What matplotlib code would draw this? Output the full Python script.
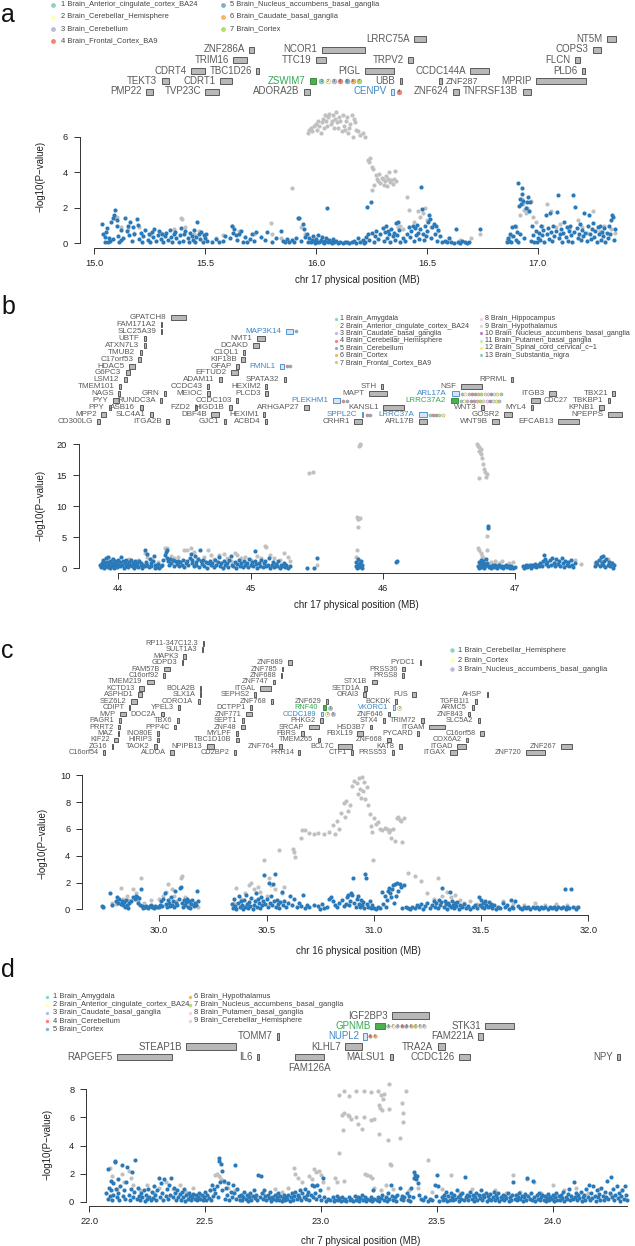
import matplotlib
matplotlib.use("Agg")
import matplotlib.pyplot as plt
import matplotlib.transforms as mtransforms
from matplotlib.patches import Rectangle
import numpy as np

plt.rcParams["font.family"] = ["Liberation Sans", "DejaVu Sans"]

W, H = 635, 1246

SET3 = ["#8dd3c7", "#ffffb3", "#bebada", "#fb8072", "#80b1d3", "#fdb462",
        "#b3de69", "#fccde5", "#d9d9d9", "#bc80bd", "#ccebc5", "#ffed6f"]
BLUE_PT = "#2a7ab9"
GRAY_PT = "#c0c0c0"
GENE_TXT = "#5a5a5a"
BOX_FILL = "#b8b8b8"
BOX_EDGE = "#454545"
GREEN_TXT = "#33a852"
GREEN_BOX = "#4caf50"
BLUE_TXT = "#3a86c8"
BLUE_BOX = "#d6e6f5"
AXIS = "#333333"

# ---------------- panel a ----------------
a_tissues = ["Brain_Anterior_cingulate_cortex_BA24", "Brain_Cerebellar_Hemisphere",
             "Brain_Cerebellum", "Brain_Frontal_Cortex_BA9",
             "Brain_Nucleus_accumbens_basal_ganglia", "Brain_Caudate_basal_ganglia",
             "Brain_Cortex"]
a_genes = [
    ("NT5M", 17.310, 17.354, 0), ("LRRC75A", 16.442, 16.497, 0),
    ("ZNF286A", 15.698, 15.720, 1), ("NCOR1", 16.027, 16.219, 1), ("COPS3", 17.250, 17.283, 1),
    ("TRIM16", 15.627, 15.687, 2), ("TTC19", 15.999, 16.043, 2), ("TRPV2", 16.416, 16.438, 2),
    ("FLCN", 17.167, 17.189, 2),
    ("CDRT4", 15.435, 15.501, 3), ("TBC1D26", 15.731, 15.742, 3), ("PIGL", 16.219, 16.350, 3),
    ("CCDC144A", 16.696, 16.778, 3), ("PLD6", 17.200, 17.211, 3),
    ("TEKT3", 15.303, 15.336, 4), ("CDRT1", 15.566, 15.620, 4), ("ZSWIM7", 15.972, 15.999, 4),
    ("UBB", 16.378, 16.389, 4), ("ZNF287", 16.553, 16.570, 4), ("MPRIP", 16.992, 17.217, 4),
    ("PMP22", 15.232, 15.265, 5), ("TVP23C", 15.501, 15.561, 5), ("ADORA2B", 15.945, 15.972, 5),
    ("CENPV", 16.339, 16.350, 5), ("ZNF624", 16.619, 16.645, 5), ("TNFRSF13B", 16.931, 16.969, 5),
]
a_hi = {"ZSWIM7": ("green", [1, 2, 3, 4, 5, 6, 7]), "CENPV": ("blue", [4])}
a_blue = [
    (15.035, 1.10), (15.04, 0.55), (15.046, 0.37), (15.05, 0.10), (15.053, 0.65), (15.058, 0.85),
    (15.068, 0.30), (15.077, 1.20), (15.082, 1.40), (15.09, 1.60), (15.095, 1.85), (15.10, 1.30),
    (15.104, 0.95), (15.108, 0.40), (15.113, 0.10), (15.119, 0.75), (15.122, 0.20), (15.06, 0.05),
    (15.072, 0.12), (15.085, 0.25),
    (15.13, 0.30), (15.14, 1.40), (15.145, 0.70), (15.15, 1.00), (15.155, 0.45), (15.16, 1.20),
    (15.17, 0.15), (15.175, 0.90), (15.18, 0.55), (15.19, 1.35), (15.195, 1.05), (15.20, 0.25),
    (15.21, 0.60), (15.215, 0.05), (15.22, 0.40), (15.23, 0.75), (15.24, 0.20), (15.245, 0.50),
    (15.25, 0.10), (15.26, 0.65), (15.265, 0.35), (15.27, 0.80), (15.28, 0.15), (15.285, 0.45),
    (15.29, 0.70), (15.30, 0.25), (15.305, 0.55), (15.31, 0.05), (15.32, 0.40), (15.325, 0.60),
    (15.33, 0.20), (15.34, 0.75), (15.345, 0.35), (15.35, 0.10), (15.36, 0.50), (15.365, 0.65),
    (15.37, 0.30), (15.38, 0.05), (15.385, 0.45), (15.39, 0.85), (15.40, 0.15), (15.405, 0.55),
    (15.41, 0.70), (15.42, 0.30), (15.425, 0.10), (15.43, 0.60), (15.44, 0.40), (15.445, 0.20),
    (15.45, 0.75), (15.455, 0.05), (15.46, 0.35), (15.465, 1.20), (15.47, 0.50), (15.475, 0.25),
    (15.48, 0.65), (15.49, 0.10), (15.495, 0.45), (15.50, 0.30), (15.505, 0.55), (15.51, 0.15),
    (15.53, 0.10), (15.55, 0.25), (15.56, 0.05), (15.58, 0.15), (15.59, 0.40), (15.61, 0.30),
    (15.62, 0.95), (15.625, 0.60), (15.63, 0.80), (15.64, 0.45), (15.645, 0.20), (15.65, 0.55),
    (15.66, 0.70), (15.67, 0.10), (15.68, 0.35), (15.69, 0.05), (15.70, 0.25), (15.71, 0.50),
    (15.72, 0.15), (15.73, 0.65),
    (15.75, 0.35), (15.77, 0.20), (15.78, 0.65), (15.80, 0.10), (15.82, 0.30), (15.84, 0.70),
    (15.85, 0.15), (15.86, 0.05), (15.87, 0.25), (15.88, 0.10), (15.89, 0.20), (15.90, 0.05),
    (15.91, 0.30), (15.92, 1.45), (15.925, 1.40), (15.93, 0.15), (15.94, 1.10), (15.945, 0.80),
    (15.95, 0.35), (15.96, 0.55),
    (15.965, 0.10), (15.97, 0.30), (15.975, 0.05), (15.98, 0.20), (15.985, 0.40), (15.99, 0.15),
    (15.995, 0.02), (16.00, 0.25), (16.005, 0.10), (16.01, 0.45), (16.015, 0.05), (16.02, 0.20),
    (16.025, 0.35), (16.03, 0.10), (16.035, 0.02), (16.04, 0.15), (16.045, 0.30), (16.05, 2.00),
    (16.055, 0.05), (16.06, 0.20), (16.065, 0.10), (16.07, 0.02), (16.075, 0.25), (16.08, 0.05),
    (16.09, 0.15), (16.10, 0.02), (16.11, 0.08), (16.12, 0.02), (16.13, 0.10), (16.14, 0.05),
    (16.15, 0.02), (16.16, 0.08), (16.17, 0.15), (16.18, 0.02), (16.19, 0.30), (16.20, 0.05),
    (16.21, 0.20), (16.215, 0.02), (16.22, 0.10), (16.225, 0.35),
    (16.228, 2.05), (16.235, 0.50), (16.24, 0.20), (16.246, 2.30), (16.25, 0.60), (16.26, 0.05),
    (16.265, 0.40), (16.27, 0.70), (16.28, 0.25), (16.29, 0.55),
    (16.30, 0.85), (16.305, 0.15), (16.31, 0.65), (16.315, 0.95), (16.32, 0.30), (16.325, 0.70),
    (16.33, 0.50), (16.335, 0.10), (16.34, 0.80), (16.345, 0.40), (16.35, 0.60), (16.355, 0.20),
    (16.36, 1.15), (16.365, 0.45), (16.37, 1.20), (16.375, 0.75), (16.38, 0.05), (16.39, 0.30),
    (16.40, 0.15), (16.41, 0.55),
    (16.42, 0.90), (16.425, 0.35), (16.43, 0.70), (16.435, 1.00), (16.44, 0.15), (16.445, 0.85),
    (16.45, 0.45), (16.455, 1.05), (16.46, 0.60), (16.465, 0.25), (16.47, 0.80), (16.475, 3.15),
    (16.478, 1.95), (16.48, 0.55), (16.485, 0.20), (16.49, 0.95), (16.495, 0.40), (16.50, 0.70),
    (16.505, 1.20), (16.51, 1.60), (16.515, 1.35), (16.52, 0.30), (16.525, 0.90), (16.53, 1.10),
    (16.535, 0.50), (16.54, 1.00), (16.545, 0.15), (16.55, 0.75), (16.56, 0.40), (16.57, 0.10),
    (16.58, 0.15), (16.59, 0.05), (16.60, 0.30), (16.61, 0.10), (16.62, 0.02), (16.63, 0.80),
    (16.64, 0.08), (16.65, 0.02), (16.66, 0.12), (16.67, 0.05), (16.68, 0.02), (16.69, 0.08),
    (16.74, 0.80),
    (16.86, 0.10), (16.865, 0.30), (16.87, 0.15), (16.875, 0.55), (16.88, 0.05), (16.885, 0.90),
    (16.89, 0.40), (16.895, 1.00), (16.90, 0.20), (16.905, 0.65), (16.91, 0.10), (16.912, 3.40),
    (16.915, 2.10), (16.918, 0.50), (16.92, 2.50), (16.925, 2.20), (16.928, 2.80), (16.93, 3.10),
    (16.935, 2.40), (16.94, 0.30), (16.945, 2.00), (16.95, 2.35), (16.955, 2.60), (16.96, 1.80),
    (16.965, 2.30), (16.97, 0.15), (16.975, 1.00), (16.98, 0.45), (16.985, 0.10), (16.99, 0.70),
    (16.995, 0.05), (17.00, 0.30),
    (17.005, 0.60), (17.01, 0.20), (17.015, 1.00), (17.02, 0.45), (17.025, 0.75), (17.03, 0.10),
    (17.035, 1.60), (17.04, 0.50), (17.045, 0.85), (17.05, 0.25), (17.055, 1.70), (17.06, 0.65),
    (17.065, 0.15), (17.07, 0.95), (17.075, 0.40), (17.08, 0.70), (17.085, 1.75), (17.09, 2.70),
    (17.095, 0.30), (17.10, 0.55), (17.105, 0.80), (17.11, 0.05), (17.115, 0.60), (17.12, 1.20),
    (17.125, 0.35), (17.13, 0.90), (17.135, 0.15), (17.14, 0.70), (17.145, 1.00), (17.15, 0.45),
    (17.155, 0.10), (17.16, 2.70), (17.165, 0.65), (17.17, 2.05), (17.175, 0.85), (17.18, 0.30),
    (17.185, 0.55), (17.19, 1.10), (17.195, 0.20), (17.20, 0.75), (17.205, 0.40), (17.21, 1.70),
    (17.215, 0.60), (17.22, 0.15), (17.225, 0.95), (17.23, 1.60), (17.235, 0.50), (17.24, 0.25),
    (17.245, 0.80), (17.25, 1.15), (17.255, 0.35), (17.26, 0.70), (17.265, 0.05), (17.27, 0.90),
    (17.275, 0.55), (17.28, 1.00), (17.285, 0.20), (17.29, 0.65), (17.295, 0.40), (17.30, 0.85),
    (17.305, 0.10), (17.31, 0.60), (17.315, 0.30), (17.32, 0.95), (17.325, 0.50), (17.33, 1.30),
    (17.335, 1.60), (17.34, 1.50), (17.345, 0.20), (17.35, 0.80),
]
a_gray = [
    (15.09, 1.45), (15.10, 1.50), (15.12, 0.90), (15.15, 0.80), (15.18, 0.60), (15.20, 0.90),
    (15.25, 0.45), (15.30, 0.60), (15.36, 0.80), (15.39, 1.45), (15.395, 1.38), (15.41, 0.90),
    (15.45, 0.50), (15.47, 0.70), (15.55, 0.30), (15.58, 0.45), (15.62, 1.00), (15.65, 0.70),
    (15.72, 0.55), (15.795, 1.15), (15.80, 0.50), (15.84, 0.30), (15.89, 3.10), (15.93, 0.90),
    (15.95, 0.50),
    (15.965, 6.2), (15.97, 6.4), (15.975, 6.5), (15.98, 6.3), (15.99, 6.6), (16.00, 6.7),
    (16.005, 6.4), (16.01, 6.9), (16.015, 6.6), (16.02, 6.2), (16.025, 6.8), (16.03, 7.0),
    (16.035, 6.5), (16.04, 7.2), (16.045, 6.9), (16.05, 6.6), (16.055, 7.1), (16.06, 7.3),
    (16.065, 6.7), (16.07, 6.9), (16.075, 7.2), (16.08, 6.5), (16.085, 7.0), (16.09, 7.4),
    (16.095, 6.8), (16.10, 6.5), (16.105, 7.1), (16.11, 6.9), (16.115, 6.3), (16.12, 7.2),
    (16.125, 6.6), (16.13, 6.4), (16.135, 6.9), (16.14, 7.1), (16.145, 6.2), (16.15, 6.5),
    (16.155, 6.7), (16.16, 7.2), (16.165, 6.0), (16.17, 7.0), (16.175, 6.8), (16.18, 6.4),
    (16.19, 6.3), (16.20, 6.1), (16.21, 6.2), (16.22, 6.0),
    (16.235, 4.7), (16.24, 4.55), (16.245, 4.8), (16.25, 4.3), (16.255, 4.2), (16.252, 3.0),
    (16.26, 3.3), (16.27, 3.85), (16.275, 3.6), (16.28, 3.5), (16.285, 3.9), (16.29, 3.4),
    (16.295, 3.7), (16.30, 3.6), (16.305, 3.3), (16.31, 3.5), (16.315, 3.8), (16.32, 3.2),
    (16.325, 3.6), (16.33, 4.0), (16.335, 3.45), (16.34, 3.55), (16.345, 3.35), (16.35, 3.6),
    (16.355, 4.05), (16.36, 3.5),
    (16.37, 0.9), (16.38, 1.0), (16.39, 0.8), (16.41, 2.6), (16.42, 1.9), (16.44, 1.2),
    (16.46, 1.8), (16.47, 1.5), (16.48, 1.7), (16.49, 2.0), (16.50, 1.3), (16.52, 0.9),
    (16.55, 0.7), (16.60, 0.3), (16.65, 0.2), (16.70, 0.3), (16.74, 0.5), (16.86, 0.2),
    (16.88, 0.4), (16.90, 0.9), (16.92, 1.6), (16.93, 2.5), (16.935, 2.2), (16.94, 1.9),
    (16.945, 1.7), (16.95, 2.0), (16.96, 1.8), (16.97, 2.4), (16.98, 1.5), (16.99, 1.2),
    (17.02, 1.0), (17.04, 2.2), (17.06, 1.8), (17.08, 0.9), (17.10, 1.1), (17.14, 0.8),
    (17.18, 1.3), (17.20, 0.9), (17.22, 0.6), (17.25, 1.8), (17.28, 0.7), (17.30, 1.0),
    (17.33, 0.8), (17.35, 0.6),
]

# ---------------- panel b ----------------
b_tissues = ["Brain_Amygdala", "Brain_Anterior_cingulate_cortex_BA24",
             "Brain_Caudate_basal_ganglia", "Brain_Cerebellar_Hemisphere",
             "Brain_Cerebellum", "Brain_Cortex", "Brain_Frontal_Cortex_BA9",
             "Brain_Hippocampus", "Brain_Hypothalamus",
             "Brain_Nucleus_accumbens_basal_ganglia", "Brain_Putamen_basal_ganglia",
             "Brain_Spinal_cord_cervical_c\u22121", "Brain_Substantia_nigra"]
b_genes = [
    ("GPATCH8", 44.398, 44.509, 0),
    ("FAM171A2", 44.321, 44.331, 1),
    ("SLC25A39", 44.321, 44.331, 2), ("MAP3K14", 45.265, 45.317, 2),
    ("UBTF", 44.193, 44.209, 3), ("NMT1", 45.050, 45.111, 3),
    ("ATXN7L3", 44.193, 44.209, 4), ("DCAKD", 45.020, 45.065, 4),
    ("TMUB2", 44.163, 44.178, 5), ("C1QL1", 44.943, 44.959, 5),
    ("C17orf53", 44.147, 44.169, 6), ("KIF18B", 44.928, 44.959, 6),
    ("HDAC5", 44.080, 44.123, 7), ("GFAP", 44.891, 44.913, 7), ("FMNL1", 45.225, 45.249, 7),
    ("G6PC3", 44.055, 44.092, 8), ("EFTUD2", 44.851, 44.904, 8),
    ("LSM12", 44.040, 44.064, 9), ("ADAM11", 44.759, 44.781, 9), ("SPATA32", 45.249, 45.264, 9),
    ("RPRML", 46.972, 46.984, 9),
    ("TMEM101", 44.003, 44.018, 10), ("CCDC43", 44.674, 44.689, 10), ("HEXIM2", 45.111, 45.127, 10),
    ("STH", 45.984, 45.999, 10), ("NSF", 46.590, 46.749, 10),
    ("NAGS", 44.000, 44.016, 11), ("GRN", 44.346, 44.362, 11), ("MEIOC", 44.668, 44.692, 11),
    ("PLCD3", 45.111, 45.133, 11), ("MAPT", 45.898, 46.029, 11), ("ARL17A", 46.520, 46.575, 11),
    ("ITGB3", 47.254, 47.306, 11), ("TBX21", 47.735, 47.753, 11),
    ("PYY", 43.958, 44.009, 12), ("RUNDC3A", 44.316, 44.331, 12), ("CCDC103", 44.891, 44.906, 12),
    ("PLEKHM1", 45.623, 45.678, 12), ("LRRC37A2", 46.511, 46.566, 12), ("CDC27", 47.122, 47.186, 12),
    ("TBKBP1", 47.698, 47.719, 12),
    ("PPY", 43.927, 43.948, 13), ("ASB16", 44.163, 44.184, 13), ("FZD2", 44.576, 44.597, 13),
    ("HIGD1B", 44.836, 44.858, 13), ("ARHGAP27", 45.402, 45.439, 13), ("KANSL1", 46.003, 46.160, 13),
    ("WNT3", 46.743, 46.761, 13), ("MYL4", 47.117, 47.138, 13), ("KPNB1", 47.636, 47.672, 13),
    ("MPP2", 43.871, 43.908, 14), ("SLC4A1", 44.239, 44.261, 14), ("DBF4B", 44.704, 44.759, 14),
    ("HEXIM1", 45.096, 45.111, 14), ("SPPL2C", 45.840, 45.852, 14), ("LRRC37A", 46.270, 46.330, 14),
    ("GOSR2", 46.917, 46.979, 14), ("NPEPPS", 47.698, 47.807, 14),
    ("CD300LG", 43.841, 43.862, 15), ("ITGA2B", 44.362, 44.383, 15), ("GJC1", 44.799, 44.815, 15),
    ("ACBD4", 45.111, 45.127, 15), ("CRHR1", 45.785, 45.840, 15), ("ARL17B", 46.275, 46.336, 15),
    ("WNT9B", 46.826, 46.878, 15), ("EFCAB13", 47.324, 47.484, 15),
]
b_hi = {"MAP3K14": ("blue", [5]), "FMNL1": ("blue", [4, 5]), "PLEKHM1": ("blue", [4, 5]),
        "SPPL2C": ("blue", [4, 5]), "ARL17A": ("blue", list(range(1, 14))),
        "LRRC37A2": ("green", list(range(1, 14))), "LRRC37A": ("blue", [1, 4, 5, 7, 12])}
b_blue = [
    (43.86, 0.5), (43.87, 0.2), (43.875, 0.9), (43.88, 0.3), (43.885, 1.3), (43.89, 0.6),
    (43.895, 0.1), (43.90, 0.8), (43.905, 1.6), (43.91, 0.4), (43.915, 1.0), (43.92, 0.2),
    (43.925, 1.8), (43.93, 0.7), (43.935, 0.05), (43.94, 1.2), (43.945, 0.5), (43.95, 0.9),
    (43.955, 0.3), (43.96, 1.5), (43.965, 0.6), (43.97, 0.1), (43.975, 1.1), (43.98, 0.4),
    (43.985, 0.8), (43.99, 0.2), (43.995, 1.4),
    (44.00, 0.6), (44.01, 1.0), (44.015, 0.3), (44.02, 1.8), (44.03, 0.5), (44.035, 1.2),
    (44.04, 0.1), (44.05, 0.8), (44.055, 0.4), (44.06, 1.4), (44.07, 0.7), (44.075, 0.2),
    (44.08, 1.0), (44.09, 0.5), (44.095, 1.3), (44.10, 0.3), (44.11, 0.9), (44.115, 0.05),
    (44.12, 0.6), (44.13, 1.1), (44.14, 0.4), (44.145, 0.8), (44.15, 0.2), (44.16, 1.2),
    (44.17, 0.5), (44.175, 0.9), (44.18, 0.1), (44.19, 0.6),
    (44.20, 2.9), (44.205, 0.3), (44.21, 1.0), (44.215, 0.6), (44.22, 2.3), (44.23, 0.2),
    (44.24, 1.5), (44.245, 0.8), (44.25, 0.4), (44.26, 1.2), (44.27, 2.0), (44.275, 0.1),
    (44.28, 0.5), (44.29, 0.2), (44.30, 0.7), (44.31, 0.05), (44.32, 0.3), (44.33, 0.6),
    (44.34, 1.4), (44.35, 2.2), (44.36, 2.6), (44.365, 1.7), (44.37, 3.0), (44.375, 1.2),
    (44.38, 0.5), (44.39, 1.5), (44.40, 0.9), (44.41, 1.3), (44.42, 0.4), (44.43, 1.1),
    (44.44, 0.7), (44.45, 1.2),
    (44.46, 0.3), (44.47, 1.0), (44.48, 0.6), (44.49, 1.4), (44.50, 0.2), (44.51, 0.9),
    (44.52, 1.2), (44.53, 0.5), (44.54, 1.6), (44.55, 2.3), (44.555, 0.8), (44.56, 1.3),
    (44.57, 0.3), (44.58, 2.0), (44.585, 1.0), (44.59, 0.6), (44.60, 1.5), (44.61, 0.2),
    (44.62, 2.9), (44.625, 1.1), (44.63, 0.7), (44.64, 1.4), (44.65, 0.4), (44.66, 1.0),
    (44.67, 0.1), (44.68, 0.8), (44.69, 1.2), (44.70, 0.5), (44.71, 0.9), (44.72, 0.2),
    (44.73, 1.3), (44.74, 0.6), (44.75, 1.0),
    (44.76, 1.9), (44.77, 0.3), (44.78, 0.8), (44.79, 0.1), (44.80, 1.1), (44.81, 0.5),
    (44.82, 0.9), (44.83, 0.2), (44.84, 1.4), (44.85, 2.0), (44.86, 0.6), (44.87, 0.3),
    (44.88, 1.0), (44.89, 0.05), (44.90, 0.7), (44.91, 1.3), (44.92, 0.4), (44.93, 0.8),
    (44.94, 0.15), (44.95, 1.1), (44.96, 0.5), (44.97, 0.9), (44.98, 0.2), (44.99, 1.5),
    (45.00, 0.6), (45.01, 1.0), (45.02, 0.3), (45.03, 2.8), (45.035, 1.2), (45.04, 0.7),
    (45.05, 0.1), (45.06, 0.9), (45.07, 0.4), (45.08, 1.4), (45.09, 0.2), (45.10, 0.8),
    (45.11, 1.1), (45.12, 0.3), (45.13, 0.6), (45.14, 1.6), (45.15, 0.05), (45.16, 0.5),
    (45.17, 1.0), (45.18, 0.2), (45.19, 0.7), (45.20, 0.4), (45.21, 1.2), (45.22, 0.1),
    (45.23, 0.6), (45.24, 0.3), (45.25, 0.9), (45.26, 0.15), (45.27, 0.5), (45.28, 0.05),
    (45.30, 0.3),
    (45.43, 0.05), (45.48, 0.05), (45.50, 1.7),
    (45.795, 0.3), (45.80, 1.0), (45.805, 0.1), (45.81, 0.6), (45.815, 1.5), (45.82, 0.2),
    (45.825, 0.8), (45.83, 0.4), (45.835, 1.2), (45.84, 0.05), (45.845, 0.5),
    (46.10, 1.0), (46.105, 1.2),
    (46.72, 0.3), (46.725, 1.0), (46.73, 0.1), (46.735, 0.6), (46.74, 1.3), (46.745, 0.2),
    (46.75, 0.8), (46.755, 0.4), (46.76, 1.1), (46.765, 0.05), (46.77, 0.7), (46.775, 0.3),
    (46.78, 1.5), (46.785, 0.5), (46.79, 0.9), (46.795, 6.8), (46.797, 6.5), (46.80, 0.2),
    (46.81, 0.4), (46.82, 0.1), (46.83, 0.5), (46.84, 0.2), (46.85, 0.6), (46.86, 0.05),
    (46.87, 0.3), (46.88, 0.5), (46.89, 0.15), (46.90, 0.4), (46.91, 0.05), (46.92, 0.3),
    (46.93, 0.6), (46.94, 0.2), (46.95, 0.4), (46.96, 0.1), (46.97, 0.3), (46.98, 0.05),
    (47.00, 0.2),
    (47.06, 0.3), (47.07, 0.1), (47.08, 0.5), (47.09, 0.2), (47.10, 0.4), (47.11, 0.6),
    (47.12, 0.1), (47.13, 0.5), (47.14, 0.3), (47.15, 0.7), (47.16, 0.2), (47.17, 0.6),
    (47.18, 0.4), (47.19, 0.9), (47.20, 0.3), (47.21, 1.2), (47.22, 2.2), (47.225, 1.5),
    (47.23, 0.7), (47.24, 1.0), (47.25, 0.4), (47.26, 1.3), (47.27, 0.6), (47.28, 1.7),
    (47.29, 0.9), (47.30, 0.3), (47.31, 1.5), (47.32, 0.7), (47.33, 1.1), (47.34, 0.4),
    (47.35, 1.6), (47.36, 0.8), (47.37, 0.2), (47.38, 1.2), (47.39, 0.5), (47.40, 1.0),
    (47.41, 0.3), (47.42, 1.4), (47.43, 0.6), (47.44, 0.2), (47.45, 0.8),
    (47.60, 0.4), (47.61, 1.0), (47.62, 0.7), (47.63, 1.4), (47.64, 0.3), (47.65, 1.8),
    (47.655, 0.9), (47.66, 2.0), (47.665, 0.5), (47.67, 1.2), (47.68, 0.2), (47.69, 1.5),
    (47.70, 0.6), (47.71, 1.0), (47.72, 0.3), (47.73, 0.8), (47.74, 0.1), (47.75, 0.5),
]
b_gray = [
    (43.90, 1.0), (43.95, 1.5), (44.00, 0.8), (44.05, 1.2), (44.08, 1.5), (44.12, 0.9),
    (44.15, 1.3), (44.20, 2.5), (44.22, 1.8), (44.25, 1.5), (44.30, 1.0), (44.35, 3.2),
    (44.37, 3.3), (44.40, 2.0), (44.42, 1.6), (44.45, 1.8), (44.50, 3.0), (44.52, 2.9),
    (44.55, 3.2), (44.57, 2.6), (44.60, 1.5), (44.65, 1.8), (44.68, 3.0), (44.70, 2.2),
    (44.72, 1.5), (44.76, 2.1), (44.80, 2.3), (44.82, 1.7), (44.85, 1.2), (44.88, 2.5),
    (44.90, 2.2), (44.93, 1.6), (44.96, 1.9), (45.00, 1.4), (45.05, 2.0), (45.08, 1.7),
    (45.11, 3.6), (45.12, 3.4), (45.15, 2.1), (45.18, 1.6), (45.22, 1.3), (45.25, 2.4),
    (45.28, 1.8), (45.30, 1.2),
    (45.44, 15.3), (45.47, 15.5), (45.50, 0.6),
    (45.805, 8.2), (45.81, 8.0), (45.815, 7.9), (45.82, 19.8), (45.825, 20.0), (45.83, 19.9),
    (45.812, 6.6), (45.808, 3.0), (45.80, 1.8), (45.818, 1.2), (45.828, 8.1),
    (46.715, 20.1), (46.72, 19.8), (46.725, 19.5), (46.73, 19.0), (46.735, 18.8), (46.74, 19.3),
    (46.745, 18.4), (46.75, 17.8), (46.76, 16.8), (46.765, 16.0), (46.775, 15.5), (46.725, 14.6),
    (46.78, 14.8), (46.785, 15.2), (46.79, 5.2), (46.72, 3.3), (46.73, 3.0), (46.74, 2.5),
    (46.75, 2.0), (46.76, 1.6), (46.79, 3.0),
    (46.82, 1.0), (46.85, 1.2), (46.88, 0.9), (46.90, 1.1), (46.95, 0.8), (46.98, 1.0),
    (47.10, 0.6), (47.20, 0.8), (47.30, 1.0), (47.40, 0.9), (47.45, 1.3), (47.50, 0.7),
    (47.60, 0.9), (47.65, 1.2), (47.70, 1.5), (47.72, 1.0),
]

# ---------------- panel c ----------------
c_tissues = ["Brain_Cerebellar_Hemisphere", "Brain_Cortex",
             "Brain_Nucleus_accumbens_basal_ganglia"]
c_genes = [
    ("RP11-347C12.3", 30.202, 30.208, 0),
    ("SULT1A3", 30.198, 30.206, 1),
    ("MAPK3", 30.113, 30.123, 2),
    ("GDPD3", 30.104, 30.111, 3), ("ZNF689", 30.602, 30.621, 3), ("PYDC1", 31.215, 31.221, 3),
    ("FAM57B", 30.023, 30.051, 4), ("ZNF785", 30.570, 30.579, 4), ("PRSS36", 31.132, 31.145, 4),
    ("C16orf92", 30.019, 30.027, 5), ("ZNF688", 30.566, 30.573, 5), ("PRSS8", 31.130, 31.139, 5),
    ("TMEM219", 29.942, 29.976, 6), ("ZNF747", 30.528, 30.538, 6), ("STX1B", 30.990, 31.013, 6),
    ("KCTD13", 29.906, 29.928, 7), ("BOLA2B", 30.189, 30.196, 7), ("ITGAL", 30.470, 30.522, 7),
    ("SETD1A", 30.956, 30.966, 7),
    ("ASPHD1", 29.900, 29.922, 8), ("SLX1A", 30.189, 30.196, 8), ("SEPHS2", 30.441, 30.451, 8),
    ("ORAI3", 30.952, 30.962, 8), ("FUS", 31.179, 31.198, 8), ("AHSP", 31.526, 31.532, 8),
    ("SEZ6L2", 29.868, 29.896, 9), ("CORO1A", 30.179, 30.188, 9), ("ZNF768", 30.519, 30.528, 9),
    ("ZNF629", 30.777, 30.787, 9), ("BCKDK", 31.098, 31.108, 9), ("TGFB1I1", 31.470, 31.479, 9),
    ("CDIPT", 29.859, 29.866, 10), ("YPEL3", 30.089, 30.098, 10), ("DCTPP1", 30.423, 30.432, 10),
    ("RNF40", 30.762, 30.777, 10), ("VKORC1", 31.088, 31.098, 10), ("ARMC5", 31.456, 31.466, 10),
    ("MVP", 29.819, 29.847, 11), ("DOC2A", 30.007, 30.023, 11), ("ZNF771", 30.406, 30.432, 11),
    ("CCDC189", 30.754, 30.762, 11), ("ZNF646", 31.066, 31.074, 11), ("ZNF843", 31.437, 31.447, 11),
    ("PAGR1", 29.812, 29.821, 12), ("TBX6", 30.083, 30.092, 12), ("SEPT1", 30.385, 30.396, 12),
    ("PHKG2", 30.749, 30.762, 12), ("STX4", 31.041, 31.051, 12), ("TRIM72", 31.221, 31.234, 12),
    ("SLC5A2", 31.484, 31.494, 12),
    ("PRRT2", 29.809, 29.819, 13), ("PPP4C", 30.070, 30.079, 13), ("ZNF48", 30.381, 30.400, 13),
    ("SRCAP", 30.698, 30.743, 13), ("HSD3B7", 30.981, 30.990, 13), ("ITGAM", 31.258, 31.334, 13),
    ("MAZ", 29.806, 29.815, 14), ("INO80E", 29.991, 30.000, 14), ("MYLPF", 30.357, 30.366, 14),
    ("FBRS", 30.660, 30.673, 14), ("FBXL19", 30.924, 30.951, 14), ("PYCARD", 31.202, 31.211, 14),
    ("C16orf58", 31.494, 31.513, 14),
    ("KIF22", 29.791, 29.806, 15), ("HIRIP3", 29.989, 30.000, 15), ("TBC1D10B", 30.357, 30.372, 15),
    ("TMEM265", 30.739, 30.749, 15), ("ZNF668", 31.060, 31.079, 15), ("COX6A2", 31.428, 31.437, 15),
    ("ZG16", 29.778, 29.787, 16), ("TAOK2", 29.976, 29.991, 16), ("NPIPB13", 30.221, 30.255, 16),
    ("ZNF764", 30.560, 30.570, 16), ("BCL7C", 30.834, 30.900, 16), ("KAT8", 31.117, 31.130, 16),
    ("ITGAD", 31.390, 31.428, 16), ("ZNF267", 31.871, 31.922, 16),
    ("C16orf54", 29.740, 29.749, 17), ("ALDOA", 30.051, 30.070, 17), ("CD2BP2", 30.349, 30.358, 17),
    ("PRR14", 30.649, 30.658, 17), ("CTF1", 30.896, 30.904, 17), ("PRSS53", 31.083, 31.092, 17),
    ("ITGAX", 31.353, 31.387, 17), ("ZNF720", 31.711, 31.796, 17),
]
c_hi = {"RNF40": ("green", [1]), "VKORC1": ("blue", [2]), "CCDC189": ("blue", [2, 3])}
c_blue = [
    (29.735, 0.25), (29.74, 0.2), (29.77, 1.25), (29.78, 0.3), (29.80, 0.6), (29.805, 0.9),
    (29.81, 0.5), (29.815, 0.75), (29.82, 0.4), (29.825, 0.65), (29.83, 0.3), (29.835, 0.55),
    (29.84, 0.2), (29.845, 0.7), (29.85, 0.35), (29.855, 0.1), (29.86, 0.45), (29.87, 0.6),
    (29.88, 0.95), (29.885, 0.8), (29.89, 1.0), (29.895, 0.9), (29.90, 0.5), (29.905, 0.85),
    (29.91, 0.3), (29.915, 1.5), (29.92, 0.25), (29.925, 0.1), (29.93, 0.2), (29.935, 0.15),
    (29.94, 0.25), (29.945, 0.2), (29.95, 0.1), (29.955, 0.22), (29.96, 0.3), (29.965, 0.18),
    (29.97, 0.2), (29.975, 0.1), (29.98, 0.25), (29.99, 0.2), (30.00, 0.15), (30.005, 0.3),
    (30.01, 0.6), (30.015, 0.25), (30.02, 0.75), (30.025, 1.2), (30.03, 0.4), (30.035, 0.2),
    (30.04, 0.7), (30.045, 0.5), (30.05, 0.25), (30.055, 0.9), (30.06, 0.35), (30.065, 0.6),
    (30.07, 0.15), (30.075, 1.4), (30.08, 0.5), (30.085, 0.3), (30.09, 0.8), (30.095, 1.6),
    (30.10, 1.65), (30.105, 0.45), (30.11, 0.2), (30.115, 0.7), (30.12, 0.3), (30.125, 0.55),
    (30.13, 0.8), (30.135, 0.2), (30.14, 0.65), (30.145, 0.1), (30.15, 0.4), (30.155, 0.7),
    (30.16, 0.25), (30.165, 0.5), (30.17, 0.35), (30.175, 1.4), (30.18, 0.6),
    (30.34, 0.4), (30.345, 0.1), (30.35, 0.8), (30.355, 0.25), (30.36, 0.05), (30.365, 0.5),
    (30.37, 1.0), (30.375, 0.15), (30.38, 0.6), (30.385, 0.3), (30.39, 0.05), (30.395, 0.7),
    (30.40, 0.2), (30.405, 1.1), (30.41, 0.4), (30.415, 0.1), (30.42, 0.55), (30.425, 0.25),
    (30.43, 0.85), (30.435, 0.05), (30.44, 0.35), (30.445, 0.6), (30.45, 1.2), (30.455, 0.2),
    (30.46, 0.75), (30.465, 0.45), (30.47, 0.1), (30.475, 0.9), (30.48, 0.3), (30.485, 0.6),
    (30.49, 2.55), (30.495, 0.4), (30.50, 0.8), (30.505, 0.15), (30.51, 2.0), (30.515, 0.5),
    (30.52, 1.0), (30.525, 0.3), (30.53, 1.9), (30.535, 0.65), (30.54, 2.6), (30.545, 0.2),
    (30.55, 0.7), (30.555, 0.4), (30.56, 0.1), (30.565, 0.55), (30.57, 1.3), (30.575, 0.3),
    (30.58, 0.6),
    (30.59, 0.2), (30.60, 0.5), (30.61, 1.0), (30.62, 0.3), (30.63, 0.8), (30.64, 0.15),
    (30.65, 0.45), (30.66, 0.25), (30.67, 1.05), (30.68, 0.1), (30.69, 0.3), (30.70, 0.2),
    (30.72, 0.35), (30.74, 0.25), (30.75, 0.05), (30.76, 0.4), (30.77, 0.1), (30.78, 0.2),
    (30.79, 0.8), (30.80, 0.9), (30.81, 0.6), (30.82, 0.3), (30.83, 0.15), (30.84, 0.5),
    (30.85, 0.7), (30.86, 0.25),
    (30.87, 0.4), (30.875, 0.9), (30.88, 1.05), (30.885, 0.3), (30.89, 0.6), (30.895, 1.2),
    (30.90, 1.1), (30.905, 2.35), (30.91, 0.5), (30.915, 0.2), (30.92, 0.8), (30.925, 1.0),
    (30.93, 0.4), (30.935, 0.15), (30.94, 0.7), (30.945, 0.3), (30.95, 0.55), (30.955, 0.1),
    (30.96, 2.6), (30.963, 2.35), (30.97, 0.4), (30.975, 0.2), (30.98, 0.6), (30.985, 0.1),
    (30.99, 0.3),
    (31.00, 0.1), (31.01, 0.05), (31.02, 0.2), (31.03, 0.1), (31.04, 1.3), (31.045, 0.4),
    (31.05, 1.0), (31.055, 0.2), (31.06, 0.7), (31.065, 1.4), (31.07, 1.6), (31.075, 1.2),
    (31.08, 0.9), (31.085, 1.5), (31.09, 1.8), (31.095, 0.5), (31.10, 1.9), (31.105, 1.0),
    (31.11, 1.95), (31.115, 1.4), (31.12, 1.9), (31.125, 1.7), (31.13, 0.1), (31.14, 1.85),
    (31.15, 0.2),
    (31.16, 0.1), (31.17, 0.05), (31.18, 0.2), (31.19, 0.1), (31.20, 0.3), (31.21, 0.15),
    (31.22, 0.4), (31.23, 0.05), (31.24, 0.25), (31.25, 0.5), (31.26, 0.1), (31.27, 0.35),
    (31.28, 0.6), (31.285, 0.2), (31.29, 0.45), (31.30, 0.1), (31.305, 0.7), (31.31, 0.3),
    (31.315, 0.55), (31.32, 1.6), (31.325, 0.2), (31.33, 0.65), (31.335, 0.4), (31.34, 0.05),
    (31.345, 0.5), (31.35, 0.3), (31.355, 1.3), (31.36, 0.15), (31.365, 0.6), (31.37, 0.35),
    (31.375, 0.1), (31.38, 0.45), (31.385, 0.25), (31.39, 0.55), (31.395, 0.05), (31.40, 0.3),
    (31.41, 0.15), (31.42, 0.4), (31.43, 0.1), (31.44, 0.25), (31.45, 0.05), (31.46, 0.2),
    (31.47, 0.35), (31.48, 0.1), (31.49, 0.9), (31.495, 0.3),
    (31.50, 0.7), (31.505, 0.2), (31.51, 0.5), (31.515, 0.1), (31.52, 0.6), (31.525, 0.35),
    (31.53, 0.15), (31.535, 0.55), (31.54, 0.25), (31.545, 0.4), (31.55, 0.1), (31.56, 0.3),
    (31.57, 0.05), (31.58, 0.2), (31.59, 0.1), (31.60, 0.45), (31.61, 0.15), (31.62, 0.3),
    (31.63, 0.05), (31.64, 0.7), (31.645, 0.2), (31.65, 0.1), (31.66, 0.6), (31.67, 0.25),
    (31.68, 0.1), (31.69, 0.05), (31.70, 0.2), (31.71, 0.1), (31.72, 0.15), (31.73, 0.05),
    (31.74, 0.2), (31.75, 0.1), (31.76, 0.15), (31.77, 0.05), (31.78, 0.2), (31.79, 0.1),
    (31.80, 0.15), (31.81, 0.05), (31.82, 0.2), (31.83, 0.1), (31.84, 0.15), (31.85, 0.05),
    (31.86, 0.2), (31.87, 0.1), (31.88, 0.15), (31.89, 1.55), (31.895, 0.05), (31.90, 0.2),
    (31.91, 0.1), (31.92, 1.5), (31.93, 0.15), (31.94, 0.05), (31.95, 0.15),
]
c_gray = [
    (29.74, 0.2), (29.78, 0.5), (29.80, 0.4), (29.82, 1.6), (29.83, 0.8), (29.85, 1.0),
    (29.86, 0.7), (29.88, 1.5), (29.89, 1.2), (29.90, 0.6), (29.915, 2.35), (29.93, 0.5),
    (29.96, 0.7), (30.00, 0.8), (30.02, 1.0), (30.03, 1.3), (30.04, 1.9), (30.06, 1.5),
    (30.07, 1.0), (30.08, 0.6), (30.10, 2.3), (30.105, 2.5), (30.12, 0.9), (30.14, 0.5),
    (30.16, 0.3), (30.18, 0.2),
    (30.35, 0.5), (30.36, 1.6), (30.38, 0.8), (30.40, 1.2), (30.42, 1.8), (30.43, 2.0),
    (30.44, 1.5), (30.46, 1.7), (30.47, 1.3), (30.49, 3.7), (30.50, 1.0), (30.51, 2.3),
    (30.52, 1.8), (30.54, 1.5), (30.56, 4.4), (30.57, 1.2), (30.58, 1.7),
    (30.625, 4.5), (30.63, 4.3), (30.635, 3.9), (30.66, 5.35), (30.665, 5.9), (30.68, 5.95),
    (30.70, 5.7), (30.72, 5.65), (30.74, 5.7), (30.77, 5.6), (30.79, 5.75), (30.81, 6.3),
    (30.82, 5.6), (30.83, 6.6), (30.84, 6.0), (30.845, 7.2), (30.86, 7.9), (30.865, 6.9),
    (30.87, 8.1), (30.88, 7.3), (30.89, 7.8), (30.90, 9.2), (30.91, 9.6), (30.92, 9.4),
    (30.925, 8.6), (30.93, 9.8), (30.935, 9.0), (30.94, 8.3), (30.945, 9.9), (30.95, 8.8),
    (30.955, 9.5), (30.96, 8.2), (30.97, 9.1), (30.975, 7.8), (30.98, 7.1), (30.985, 6.2),
    (30.99, 5.8), (30.995, 3.7), (31.00, 6.8), (31.01, 6.4), (31.02, 6.5), (31.03, 6.0),
    (31.04, 5.9), (31.05, 6.1), (31.06, 6.0), (31.07, 5.8), (31.075, 5.9), (31.08, 5.3),
    (31.09, 6.0), (31.10, 5.1), (31.11, 6.8), (31.115, 6.9), (31.12, 6.7), (31.125, 6.6),
    (31.13, 5.0), (31.14, 6.8),
    (31.16, 2.7), (31.19, 2.5), (31.22, 2.1), (31.25, 1.2), (31.28, 0.8), (31.30, 2.3),
    (31.32, 1.0), (31.34, 1.3), (31.36, 0.9), (31.38, 1.1), (31.40, 0.7), (31.42, 0.5),
    (31.45, 0.6), (31.48, 0.4), (31.52, 0.5), (31.55, 0.3), (31.60, 0.6), (31.65, 0.4),
    (31.70, 0.3), (31.75, 0.5), (31.80, 0.3), (31.85, 0.4), (31.90, 0.3), (31.94, 0.2),
]

# ---------------- panel d ----------------
d_tissues = ["Brain_Amygdala", "Brain_Anterior_cingulate_cortex_BA24",
             "Brain_Caudate_basal_ganglia", "Brain_Cerebellum", "Brain_Cortex",
             "Brain_Hypothalamus", "Brain_Nucleus_accumbens_basal_ganglia",
             "Brain_Putamen_basal_ganglia", "Brain_Cerebellar_Hemisphere"]
d_genes = [
    ("IGF2BP3", 23.307, 23.468, 0),
    ("GPNMB", 23.235, 23.276, 1), ("STK31", 23.709, 23.831, 1),
    ("TOMM7", 22.811, 22.821, 2), ("NUPL2", 23.183, 23.197, 2), ("FAM221A", 23.677, 23.700, 2),
    ("STEAP1B", 22.419, 22.633, 3), ("KLHL7", 23.104, 23.176, 3), ("TRA2A", 23.503, 23.533, 3),
    ("RAPGEF5", 22.119, 22.358, 4), ("IL6", 22.725, 22.734, 4), ("FAM126A", 22.888, 23.013, 4),
    ("MALSU1", 23.297, 23.310, 4), ("CCDC126", 23.595, 23.643, 4), ("NPY", 24.277, 24.289, 4),
]
d_hi = {"GPNMB": ("green", [1, 2, 3, 4, 5, 6, 7, 8, 9]), "NUPL2": ("blue", [4, 6])}
d_blue = [
    (22.075, 0.6), (22.08, 2.3), (22.083, 0.2), (22.085, 1.0), (22.09, 0.4), (22.093, 1.5),
    (22.095, 0.8), (22.10, 0.1), (22.103, 1.3), (22.105, 0.5), (22.11, 2.9), (22.112, 2.8),
    (22.115, 0.9), (22.12, 0.3), (22.123, 1.6), (22.125, 0.6), (22.13, 0.1), (22.135, 1.1),
    (22.14, 2.6), (22.145, 0.4), (22.15, 0.8), (22.155, 0.2), (22.16, 1.4), (22.165, 2.5),
    (22.17, 0.5), (22.175, 0.1), (22.18, 0.9), (22.185, 2.1), (22.19, 0.3), (22.195, 0.7),
    (22.20, 3.0), (22.205, 0.2), (22.21, 1.0),
    (22.215, 0.4), (22.22, 0.1), (22.225, 0.6), (22.23, 0.3), (22.235, 0.8), (22.24, 0.05),
    (22.245, 0.5), (22.25, 0.2), (22.255, 0.9), (22.26, 0.35), (22.265, 0.1), (22.27, 0.7),
    (22.275, 0.25), (22.28, 1.1), (22.285, 0.45), (22.29, 0.15), (22.295, 0.8), (22.30, 1.7),
    (22.305, 0.3), (22.31, 1.3), (22.315, 0.6), (22.32, 0.1), (22.325, 1.6), (22.33, 0.4),
    (22.335, 0.9), (22.34, 0.2), (22.345, 1.2), (22.35, 0.5), (22.355, 1.7), (22.36, 0.3),
    (22.365, 1.0), (22.37, 0.6), (22.375, 0.1), (22.38, 0.8), (22.385, 0.35), (22.39, 0.55),
    (22.395, 0.15), (22.40, 0.7), (22.405, 0.3), (22.41, 0.9), (22.415, 0.05), (22.42, 0.5),
    (22.425, 0.2), (22.43, 0.65), (22.435, 0.4), (22.44, 0.1), (22.445, 0.3), (22.45, 0.55),
    (22.455, 0.2), (22.46, 0.45), (22.465, 0.1), (22.47, 0.35), (22.475, 0.6), (22.48, 0.2),
    (22.485, 0.5), (22.49, 0.1), (22.495, 0.3), (22.50, 0.7), (22.505, 0.15), (22.51, 0.45),
    (22.515, 0.25), (22.52, 0.8), (22.525, 0.1), (22.53, 1.2), (22.535, 0.4), (22.54, 0.9),
    (22.545, 0.6),
    (22.55, 1.1), (22.555, 0.3), (22.56, 3.1), (22.562, 2.9), (22.565, 1.4), (22.57, 2.7),
    (22.572, 2.2), (22.575, 0.8), (22.58, 1.5), (22.585, 0.2), (22.59, 1.0), (22.595, 0.5),
    (22.60, 1.3), (22.605, 0.1), (22.61, 0.7), (22.615, 0.35), (22.62, 1.2), (22.625, 0.6),
    (22.63, 2.6), (22.635, 0.2), (22.64, 0.9), (22.645, 0.4), (22.65, 0.15),
    (22.655, 0.5), (22.66, 0.1), (22.665, 0.35), (22.67, 0.7), (22.675, 0.2), (22.68, 0.45),
    (22.685, 0.05), (22.69, 0.3), (22.695, 0.6), (22.70, 0.15), (22.705, 0.4), (22.71, 0.8),
    (22.715, 0.25), (22.72, 0.5), (22.725, 0.1), (22.73, 1.9), (22.735, 0.3), (22.74, 1.8),
    (22.745, 0.6), (22.75, 0.2), (22.755, 0.8), (22.76, 0.4), (22.765, 0.1), (22.77, 0.5),
    (22.775, 0.25), (22.78, 0.7), (22.785, 0.05), (22.79, 0.35), (22.795, 0.2), (22.80, 0.5),
    (22.805, 0.1), (22.81, 0.3), (22.815, 0.6), (22.82, 0.15), (22.825, 0.4), (22.83, 0.05),
    (22.835, 0.25), (22.84, 0.5), (22.845, 0.1), (22.85, 0.35), (22.855, 0.2), (22.86, 0.45),
    (22.865, 0.05), (22.87, 0.3), (22.875, 0.6), (22.88, 0.15), (22.885, 0.4), (22.89, 0.7),
    (22.895, 0.2), (22.90, 0.5), (22.905, 0.3), (22.91, 0.8), (22.915, 0.1), (22.92, 0.6),
    (22.925, 0.35), (22.93, 0.9), (22.935, 0.2), (22.94, 0.5), (22.945, 0.7), (22.95, 0.15),
    (22.955, 0.45), (22.96, 1.2), (22.965, 0.3), (22.97, 1.1), (22.975, 0.6), (22.98, 0.2),
    (22.985, 1.2), (22.99, 0.4), (22.995, 0.8), (23.00, 0.1), (23.01, 1.7), (23.015, 0.3),
    (23.02, 0.05), (23.03, 0.2), (23.04, 0.1), (23.05, 0.3), (23.055, 0.05), (23.06, 0.15),
    (23.07, 0.4), (23.075, 0.1), (23.08, 0.25), (23.085, 0.05), (23.09, 0.3), (23.10, 0.1),
    (23.105, 0.2), (23.11, 0.05), (23.12, 0.35), (23.125, 0.1), (23.13, 0.2), (23.14, 0.05),
    (23.145, 0.4), (23.15, 0.15), (23.16, 0.3), (23.165, 0.05), (23.17, 0.25), (23.175, 0.5),
    (23.18, 0.1), (23.19, 0.3), (23.195, 0.05), (23.20, 0.2), (23.21, 0.1), (23.215, 0.35),
    (23.22, 0.05), (23.225, 0.8), (23.23, 0.2), (23.24, 0.1), (23.245, 0.3), (23.25, 0.05),
    (23.26, 0.25), (23.265, 0.5), (23.27, 0.1), (23.28, 0.3), (23.285, 0.05), (23.29, 0.6),
    (23.295, 0.2), (23.30, 1.2), (23.305, 0.4), (23.31, 0.1), (23.32, 0.3), (23.325, 0.05),
    (23.33, 0.5), (23.34, 1.0), (23.345, 0.2), (23.35, 0.4), (23.355, 0.1), (23.36, 0.3),
    (23.37, 0.6), (23.375, 0.15), (23.38, 0.4), (23.385, 0.05), (23.39, 1.0), (23.395, 0.3),
    (23.40, 2.1), (23.402, 1.7), (23.405, 1.9), (23.41, 1.6), (23.415, 1.8), (23.42, 1.3),
    (23.425, 0.5), (23.43, 0.2), (23.44, 0.1), (23.45, 0.3), (23.46, 0.05), (23.47, 0.2),
    (23.48, 0.1), (23.49, 1.2), (23.495, 0.4), (23.50, 1.9), (23.505, 1.1),
    (23.51, 0.05), (23.52, 0.3), (23.525, 0.1), (23.53, 0.5), (23.535, 0.2), (23.54, 0.7),
    (23.545, 0.05), (23.55, 0.4), (23.555, 0.15), (23.56, 0.6), (23.565, 0.3), (23.57, 0.1),
    (23.575, 0.5), (23.58, 0.2), (23.585, 0.8), (23.59, 0.35), (23.595, 0.05), (23.60, 0.45),
    (23.605, 0.2), (23.61, 0.6), (23.615, 0.1), (23.62, 1.75), (23.625, 0.3), (23.63, 0.5),
    (23.635, 0.15), (23.64, 0.4), (23.645, 0.7), (23.65, 0.2), (23.655, 0.5), (23.66, 0.05),
    (23.665, 0.35), (23.67, 0.6), (23.675, 0.15), (23.68, 0.45), (23.685, 0.25), (23.69, 0.8),
    (23.695, 0.1), (23.70, 0.5), (23.705, 0.3), (23.71, 0.65), (23.715, 0.05), (23.72, 0.4),
    (23.725, 0.2), (23.73, 0.55), (23.735, 0.1), (23.74, 0.3), (23.745, 0.7), (23.75, 0.15),
    (23.755, 0.45), (23.76, 0.25), (23.765, 0.6), (23.77, 0.05), (23.775, 0.35), (23.78, 0.2),
    (23.785, 0.5), (23.79, 0.1), (23.795, 0.4), (23.80, 0.25), (23.805, 0.6), (23.81, 0.05),
    (23.815, 0.3), (23.82, 0.15), (23.825, 0.45), (23.83, 1.4), (23.835, 0.2), (23.84, 0.5),
    (23.845, 0.1), (23.85, 0.35), (23.855, 0.6), (23.86, 0.2), (23.865, 0.4), (23.87, 0.05),
    (23.875, 0.3), (23.88, 0.55), (23.885, 0.15), (23.89, 1.7), (23.895, 0.4), (23.90, 0.2),
    (23.905, 0.6), (23.91, 0.1), (23.915, 1.5), (23.92, 0.35), (23.925, 0.05), (23.93, 0.45),
    (23.935, 0.2), (23.94, 0.6), (23.945, 0.1), (23.95, 0.3), (23.955, 0.5), (23.96, 0.15),
    (23.965, 0.4), (23.97, 0.05), (23.975, 0.25), (23.98, 0.55), (23.985, 0.1), (23.99, 0.35),
    (23.995, 0.2), (24.00, 0.45), (24.005, 0.05), (24.01, 0.3), (24.015, 0.6), (24.02, 0.15),
    (24.025, 0.4), (24.03, 0.1), (24.035, 0.5), (24.04, 0.25), (24.045, 0.7), (24.05, 0.05),
    (24.055, 0.35), (24.06, 0.2), (24.065, 0.55), (24.07, 0.9), (24.075, 0.1), (24.08, 0.4),
    (24.085, 0.2), (24.09, 1.4), (24.095, 0.3), (24.10, 0.6), (24.105, 0.1), (24.11, 0.45),
    (24.115, 0.25), (24.12, 0.7), (24.125, 0.05), (24.13, 0.35), (24.135, 0.5), (24.14, 0.15),
    (24.145, 0.9), (24.15, 0.3), (24.155, 1.2), (24.16, 0.1), (24.165, 0.6), (24.17, 0.25),
    (24.175, 1.1), (24.18, 0.4), (24.185, 0.05), (24.19, 0.8), (24.195, 0.3), (24.20, 0.55),
    (24.205, 0.15), (24.21, 1.0), (24.215, 0.4), (24.22, 0.1), (24.225, 0.7), (24.23, 0.3),
    (24.235, 1.5), (24.24, 0.2), (24.245, 0.6), (24.25, 1.75), (24.255, 0.35), (24.26, 0.9),
    (24.265, 0.1), (24.27, 0.5), (24.275, 1.1), (24.28, 0.25), (24.285, 0.65), (24.29, 0.05),
    (24.295, 0.4), (24.30, 0.8), (24.305, 0.2), (24.31, 1.1), (24.315, 0.5), (24.32, 0.15),
]
d_gray = [
    (22.09, 2.4), (22.10, 1.8), (22.12, 0.9), (22.14, 2.0), (22.15, 1.4), (22.17, 2.2),
    (22.18, 1.7), (22.19, 1.2), (22.22, 0.8), (22.25, 1.2), (22.28, 0.6), (22.30, 1.0),
    (22.33, 1.4), (22.36, 0.9), (22.39, 1.2), (22.42, 0.7), (22.45, 1.0), (22.48, 0.5),
    (22.52, 0.8), (22.545, 1.9), (22.55, 2.0), (22.56, 1.8), (22.57, 1.6), (22.58, 1.4),
    (22.60, 1.0), (22.63, 0.8), (22.66, 0.5), (22.70, 0.4), (22.75, 0.6), (22.80, 0.9),
    (22.83, 0.7), (22.86, 1.0), (22.885, 2.4), (22.89, 2.0), (22.90, 1.7), (22.92, 1.4),
    (22.95, 1.8), (22.96, 1.6), (22.97, 2.3), (22.98, 2.1), (22.99, 2.2), (23.00, 1.9),
    (23.01, 1.4), (23.03, 1.0), (23.06, 1.7), (23.07, 1.4),
    (23.077, 3.45), (23.078, 7.6), (23.10, 7.9), (23.12, 7.5), (23.15, 7.9), (23.185, 7.9),
    (23.215, 7.8), (23.245, 7.85), (23.26, 7.6), (23.27, 7.7), (23.295, 8.4), (23.365, 7.9),
    (23.35, 7.0), (23.355, 6.3), (23.352, 5.7), (23.34, 4.5), (23.29, 4.4), (23.25, 4.8),
    (23.09, 6.2), (23.10, 6.3), (23.115, 6.2), (23.12, 6.1), (23.13, 5.9), (23.15, 6.0),
    (23.16, 5.5), (23.095, 5.1), (23.175, 5.2), (23.185, 6.0), (23.215, 5.8), (23.23, 5.9),
    (23.255, 6.7), (23.265, 6.5), (23.295, 6.6), (23.25, 6.9), (23.267, 7.3), (23.296, 2.65),
    (23.30, 2.6), (23.19, 2.0), (23.20, 1.9), (23.21, 1.8), (23.22, 1.7), (23.10, 1.5),
    (23.23, 1.0), (23.26, 0.8), (23.28, 1.2), (23.31, 0.9),
    (23.38, 0.8), (23.42, 1.0), (23.46, 3.0), (23.48, 0.7), (23.52, 0.9), (23.56, 1.9),
    (23.60, 0.6), (23.65, 0.9), (23.70, 0.5), (23.75, 0.8), (23.80, 0.6), (23.83, 1.9),
    (23.86, 0.7), (23.89, 1.6), (23.92, 1.4), (23.95, 0.6), (24.00, 1.2), (24.05, 0.8),
    (24.10, 1.0), (24.15, 0.6), (24.20, 0.9), (24.25, 0.5), (24.30, 0.8),
]

# ---------------- drawing ----------------
fig = plt.figure(figsize=(W / 100, H / 100), dpi=100)
over = fig.add_axes([0, 0, 1, 1])
over.set_xlim(0, W)
over.set_ylim(H, 0)
over.axis("off")


def scatter_panel(blue, gray, xcal, ycal, box, xticks, xfmt, yticks, xbounds, xlabel, ylabel_x, xlabel_y):
    left, right, top, bottom = box
    ax = fig.add_axes([left / W, 1 - bottom / H, (right - left) / W, (bottom - top) / H])
    ax.set_facecolor("none")
    gx, gy = np.array(gray).T
    bx, by = np.array(blue).T
    ax.scatter(gx, gy, s=9, c=GRAY_PT, linewidths=0, zorder=2)
    ax.scatter(bx, by, s=9, c=BLUE_PT, linewidths=0, zorder=3)
    for s in ("top", "right"):
        ax.spines[s].set_visible(False)
    for s in ("left", "bottom"):
        ax.spines[s].set_linewidth(0.7)
        ax.spines[s].set_color(AXIS)
    ax.set_xticks(xticks, [xfmt.format(v) for v in xticks])
    ax.set_yticks(yticks, [str(v) for v in yticks])
    (xa, pa), (xb, pb) = xcal
    k = (xb - xa) / (pb - pa)
    ax.set_xlim(xa + (left - pa) * k, xa + (right - pa) * k)
    (ya, qa), (yb, qb) = ycal
    m = (yb - ya) / (qb - qa)
    ax.set_ylim(ya + (bottom - qa) * m, ya + (top - qa) * m)
    ax.spines["left"].set_bounds(yticks[0], yticks[-1])
    ax.spines["bottom"].set_bounds(*xbounds)
    ax.tick_params(length=4, width=0.7, color=AXIS, labelcolor="#222222", labelsize=6.7)
    ax.tick_params(axis="x", pad=4.0)
    ax.tick_params(axis="y", pad=4.6)
    ax.set_xlabel(xlabel, fontsize=7, color="#222222", va="center")
    ax.xaxis.set_label_coords(0.5, (bottom - xlabel_y) / (bottom - top))
    ax.set_ylabel("\u2212log10(P\u2212value)", fontsize=7, color="#222222", va="center")
    ax.yaxis.set_label_coords((ylabel_x - left) / (right - left), 0.5)
    return ax


def gene_track(ax, genes, hi, row0, dy, box_h, fs, dot, right_lab=(), below_lab=()):
    tr = mtransforms.blended_transform_factory(ax.transData, over.transData)
    gap = 4.5
    for name, start, end, row in genes:
        y = row0 + row * dy
        kind, tissues = hi.get(name, (None, []))
        if kind == "green":
            fc, ec, tc = GREEN_BOX, "#2e7d32", GREEN_TXT
        elif kind == "blue":
            fc, ec, tc = BLUE_BOX, BLUE_TXT, BLUE_TXT
        else:
            fc, ec, tc = BOX_FILL, BOX_EDGE, GENE_TXT
        over.add_patch(Rectangle((start, y - box_h / 2), end - start, box_h, transform=tr,
                                 facecolor=fc, edgecolor=ec, linewidth=0.6, clip_on=False))
        if name in below_lab:
            over.text((start + end) / 2, y + 11, name, transform=tr, ha="center", va="center",
                      fontsize=fs, color=tc)
        elif name in right_lab:
            t = mtransforms.offset_copy(tr, fig=fig, x=gap - 1, y=0, units="dots")
            over.text(end, y, name, transform=t, ha="left", va="center", fontsize=fs * 0.92, color=tc)
        else:
            t = mtransforms.offset_copy(tr, fig=fig, x=-gap, y=0, units="dots")
            over.text(start, y, name, transform=t, ha="right", va="center", fontsize=fs, color=tc)
        for i, d in enumerate(tissues):
            t = mtransforms.offset_copy(tr, fig=fig, x=dot["gap"] + i * dot["step"], y=0, units="dots")
            over.plot([end], [y], "o", ms=dot["ms"], mfc=SET3[(d - 1) % 12], mec="#8a8a8a",
                      mew=0.25, transform=t, clip_on=False)
            if dot["num"]:
                over.text(end, y, str(d), transform=t, ha="center", va="center",
                          fontsize=dot["num"], color="#333333")


def legend(x_dot, y0, dy, tissues, first, ms, txt_off, fs=5.4):
    for i, name in enumerate(tissues):
        idx = first + i
        y = y0 + i * dy
        over.plot([x_dot], [y], "o", ms=ms, mfc=SET3[(idx - 1) % 12], mec="none")
        over.text(x_dot + txt_off, y, f"{idx} {name}", fontsize=fs, color="#444444",
                  ha="left", va="center")


# panel a
ax_a = scatter_panel(a_blue, a_gray, ((15.0, 94.4), (17.0, 537.8)), ((0, 243.3), (6, 136.7)),
                     (79.8, 634, 105, 248.3), [15.0, 15.5, 16.0, 16.5, 17.0], "{:.1f}",
                     [0, 2, 4, 6], (15.0, 17.0), "chr 17 physical position (MB)", 40.5, 280)
gene_track(ax_a, a_genes, a_hi, 39, 10.5, 6, 7.0,
           {"gap": 5.5, "step": 6.3, "ms": 3.6, "num": 2.6}, right_lab=("ZNF287",))
legend(52.7, 5, 11.9, a_tissues[:4], 1, 3.5, 8)
legend(222.8, 5, 11.9, a_tissues[4:], 5, 3.5, 7.5)

# panel b
ax_b = scatter_panel(b_blue, b_gray, ((44, 118.3), (47, 515.2)), ((0, 568.3), (20, 444.3)),
                     (79, 633, 437.7, 573.3), [44, 45, 46, 47], "{:d}",
                     [0, 5, 10, 15, 20], (44, 47), "chr 17 physical position (MB)", 40.5, 605)
gene_track(ax_b, b_genes, b_hi, 317.3, 6.96, 5, 5.8,
           {"gap": 3.2, "step": 3.2, "ms": 2.3, "num": 0}, right_lab=("CDC27",))
legend(336, 319, 7.22, b_tissues[:7], 1, 2.3, 4.0, fs=5.1)
legend(481, 319, 7.22, b_tissues[7:], 8, 2.3, 4.0, fs=5.1)

# panel c
ax_c = scatter_panel(c_blue, c_gray, ((30.0, 159.2), (32.0, 588.4)), ((0, 909.3), (10, 775.3)),
                     (82.2, 635, 771, 915), [30.0, 30.5, 31.0, 31.5, 32.0], "{:.1f}",
                     [0, 2, 4, 6, 8, 10], (30.0, 32.0), "chr 16 physical position (MB)", 42.5, 950.7)
gene_track(ax_c, c_genes, c_hi, 643.3, 6.44, 4.7, 5.3,
           {"gap": 4.5, "step": 5.3, "ms": 3.0, "num": 2.2})
legend(452.4, 650, 9.65, c_tissues, 1, 3.2, 5.3)

# panel d
ax_d = scatter_panel(d_blue, d_gray, ((22.0, 89.1), (24.0, 552.8)), ((0, 1201.7), (8, 1089.3)),
                     (86.3, 636, 1082, 1206), [22.0, 22.5, 23.0, 23.5, 24.0], "{:.1f}",
                     [0, 2, 4, 6, 8], (22.0, 24.32), "chr 7 physical position (MB)", 47.8, 1241)
gene_track(ax_d, d_genes, d_hi, 1015.7, 10.3, 6.7, 7.0,
           {"gap": 3.5, "step": 4.45, "ms": 2.6, "num": 2.0}, below_lab=("FAM126A",))
legend(47.4, 996.7, 8.0, d_tissues[:5], 1, 2.4, 5.3)
legend(190.4, 996.7, 8.0, d_tissues[5:], 6, 2.4, 4.0)

# panel letters
for letter, base in (("a", 21.7), ("b", 314.3), ("c", 658.3), ("d", 976.7)):
    over.text(1.5, base, letter, fontsize=18, color="#111111", ha="left", va="baseline")

fig.savefig("out.png", dpi=100)
